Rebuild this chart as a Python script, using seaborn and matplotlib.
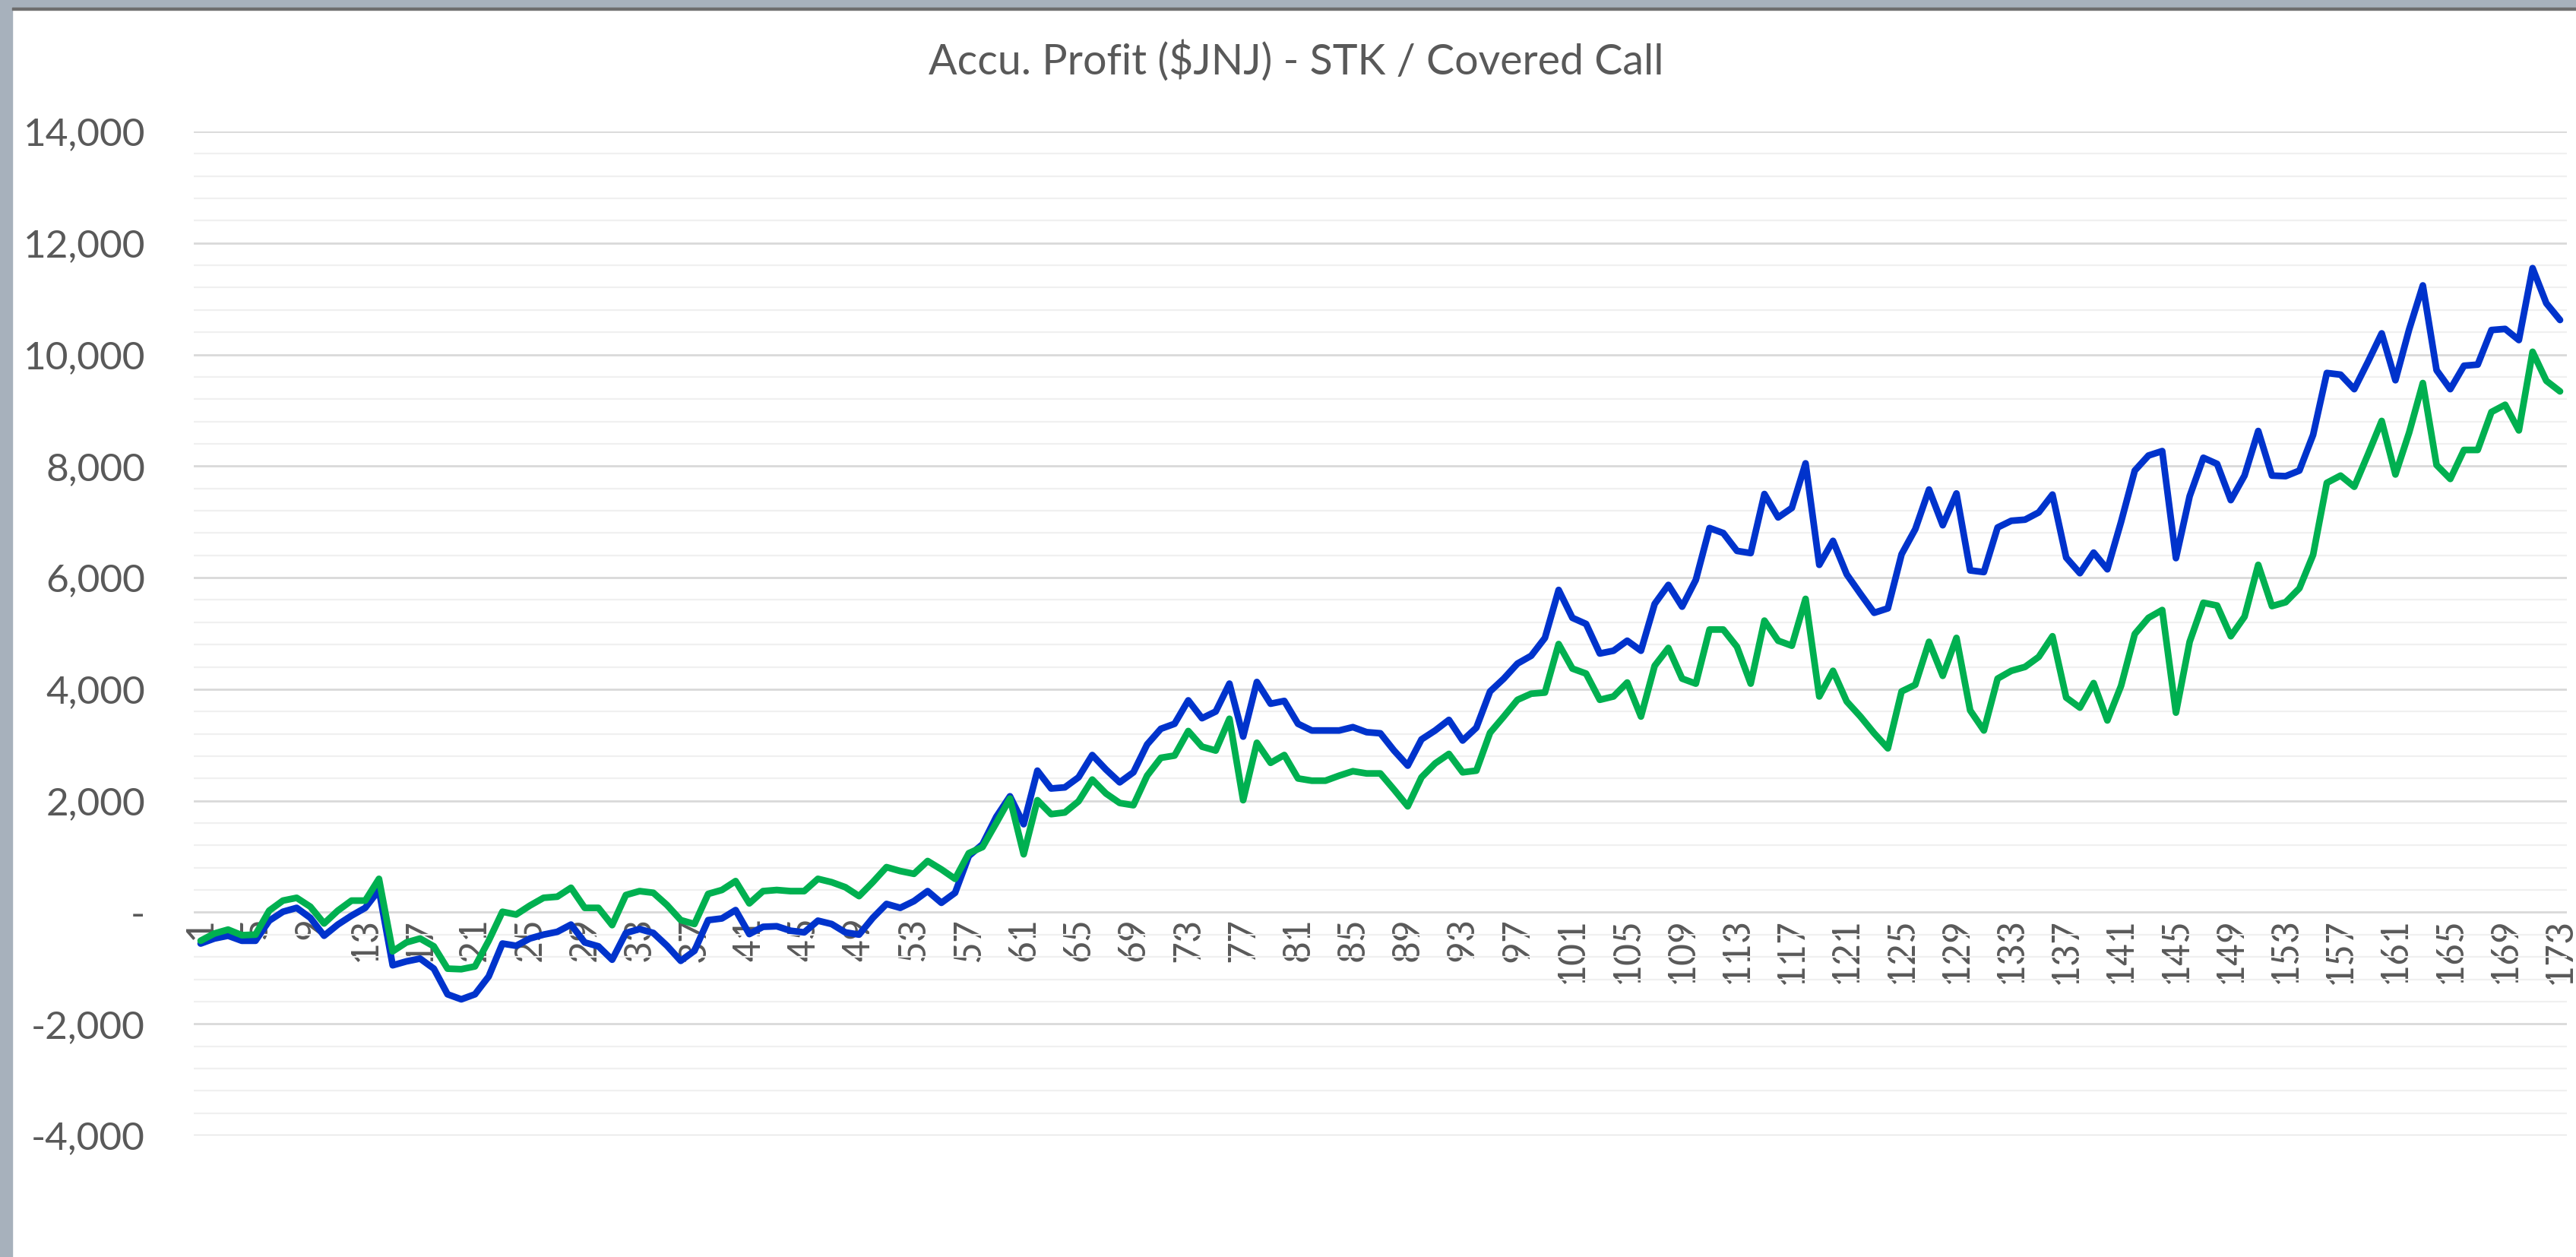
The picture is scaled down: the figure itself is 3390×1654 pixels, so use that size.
import matplotlib
matplotlib.use("Agg")
import matplotlib.pyplot as plt
import numpy as np
import pandas as pd
import seaborn as sns
from matplotlib.ticker import MultipleLocator, FuncFormatter, FixedLocator
from matplotlib.patches import Rectangle

title = "Accu. Profit ($JNJ) - STK / Covered Call"
periods = list(range(1, 174))

stk = [
    -560, -470, -420, -510, -510, -150, 10, 80, -100, -420,
    -220, -60, 80, 400, -950, -880, -830, -1010, -1470, -1560,
    -1470, -1150, -560, -600, -470, -400, -350, -220, -540, -610,
    -850, -370, -300, -370, -600, -870, -690, -140, -110, 40,
    -390, -260, -250, -330, -360, -150, -210, -360, -400, -100,
    150, 80, 200, 380, 170, 350, 1010, 1220, 1710, 2080,
    1580, 2540, 2220, 2240, 2420, 2820, 2560, 2330, 2510, 3010,
    3290, 3380, 3800, 3480, 3600, 4100, 3150, 4130, 3740, 3790,
    3380, 3260, 3260, 3260, 3320, 3230, 3210, 2900, 2630, 3100,
    3260, 3450, 3080, 3310, 3960, 4190, 4460, 4600, 4920, 5780,
    5280, 5170, 4640, 4690, 4870, 4690, 5530, 5870, 5480, 5960,
    6890, 6800, 6480, 6440, 7500, 7080, 7250, 8050, 6230, 6660,
    6060, 5710, 5370, 5450, 6420, 6870, 7580, 6940, 7510, 6130,
    6100, 6900, 7020, 7040, 7170, 7490, 6360, 6080, 6450, 6150,
    7000, 7920, 8190, 8270, 6350, 7460, 8150, 8040, 7390, 7830,
    8630, 7830, 7820, 7920, 8560, 9670, 9640, 9380, 9870, 10380,
    9540, 10450, 11240, 9720, 9380, 9800, 9820, 10440, 10460, 10260,
    11550, 10920, 10620,
]

covered_call = [
    -510, -380, -310, -410, -400, 30, 210, 260, 100, -200,
    30, 210, 210, 600, -700, -540, -470, -610, -1010, -1020,
    -970, -510, 10, -40, 120, 260, 280, 440, 80, 80,
    -230, 310, 380, 350, 130, -140, -210, 330, 400, 560,
    160, 380, 400, 380, 380, 600, 540, 450, 290, 540,
    810, 740, 690, 920, 770, 600, 1060, 1170, 1600, 2040,
    1040, 2010, 1760, 1790, 1990, 2380, 2130, 1960, 1920, 2450,
    2770, 2810, 3250, 2970, 2900, 3470, 2010, 3040, 2680, 2820,
    2400, 2360, 2360, 2450, 2530, 2490, 2490, 2200, 1900, 2420,
    2670, 2840, 2510, 2540, 3220, 3510, 3810, 3920, 3940, 4810,
    4370, 4280, 3810, 3870, 4120, 3510, 4420, 4740, 4190, 4100,
    5070, 5070, 4760, 4100, 5230, 4870, 4780, 5620, 3870, 4330,
    3780, 3510, 3210, 2940, 3960, 4080, 4850, 4240, 4920, 3620,
    3260, 4190, 4330, 4400, 4580, 4950, 3850, 3670, 4110, 3440,
    4060, 4990, 5280, 5420, 3580, 4850, 5550, 5500, 4950, 5300,
    6230, 5490, 5560, 5810, 6410, 7700, 7830, 7630, 8210, 8810,
    7850, 8600, 9490, 8020, 7770, 8290, 8290, 8970, 9100, 8640,
    10050, 9530, 9340,
]

x_tick_values = list(range(1, 174, 4))
y_tick_values = list(range(-4000, 14001, 2000))

sns.set_theme(style="white")
plt.rcParams['font.family'] = ['Lato', 'DejaVu Sans']

df = pd.DataFrame({
    "Period": periods * 2,
    "Profit": stk + covered_call,
    "Series": ["STK"] * len(stk) + ["Covered Call"] * len(covered_call),
})

W, H = 3391, 1654
fig = plt.figure(figsize=(W / 100, H / 100), dpi=100)
fig.patch.set_facecolor("white")

# window frame (grey strips at left and top)
fig.patches.append(Rectangle((0, 0), 16 / W, 1, transform=fig.transFigure,
                             color="#a7b1bc", zorder=0))
fig.patches.append(Rectangle((0, 1 - 10 / H), 1, 10 / H, transform=fig.transFigure,
                             color="#a7b1bc", zorder=0))
fig.patches.append(Rectangle((16 / W, 1 - 13 / H), 1, 3 / H, transform=fig.transFigure,
                             color="#6e6e6e", zorder=0))

ax = fig.add_axes([255 / W, 1 - 1494 / H, (3378 - 255) / W, (1494 - 173) / H])

sns.lineplot(data=df, x="Period", y="Profit", hue="Series",
             hue_order=["STK", "Covered Call"],
             palette={"STK": "#0033cc", "Covered Call": "#00b050"},
             linewidth=6.3, legend=False, sort=False, ax=ax)
for ln in ax.lines:
    ln.set_solid_joinstyle("round")
    ln.set_solid_capstyle("round")

ax.set_xlim(0.5, 173.5)
ax.set_ylim(-4000, 14000)

ax.yaxis.set_major_locator(FixedLocator(y_tick_values))
ax.yaxis.set_minor_locator(MultipleLocator(400))
ax.yaxis.set_major_formatter(FuncFormatter(lambda v, p: "-" if abs(v) < 1e-9 else f"{v:,.0f}"))

ax.set_axisbelow(True)
ax.grid(False, axis="x")
ax.grid(True, which="major", axis="y", color="#d9d9d9", linewidth=2.0)
ax.grid(True, which="minor", axis="y", color="#f0f0f0", linewidth=1.6)

for s in ["top", "right", "left"]:
    ax.spines[s].set_visible(False)
ax.spines["bottom"].set_position(("data", 0))
ax.spines["bottom"].set_visible(False)

ax.set_xticks(x_tick_values)
ax.set_xticklabels([str(v) for v in x_tick_values], rotation=90, ha="center", va="top")
ax.tick_params(axis="x", length=0, pad=5, labelsize=36, labelcolor="#595959")
ax.tick_params(axis="y", which="both", length=0, pad=46, labelsize=37, labelcolor="#595959")
ax.set_xlabel("")
ax.set_ylabel("")

fig.text(1706 / W, 1 - 80 / H, title, ha="center", va="center",
         fontsize=40, color="#595959")

fig.savefig("out.png", dpi=100, facecolor=fig.get_facecolor())
